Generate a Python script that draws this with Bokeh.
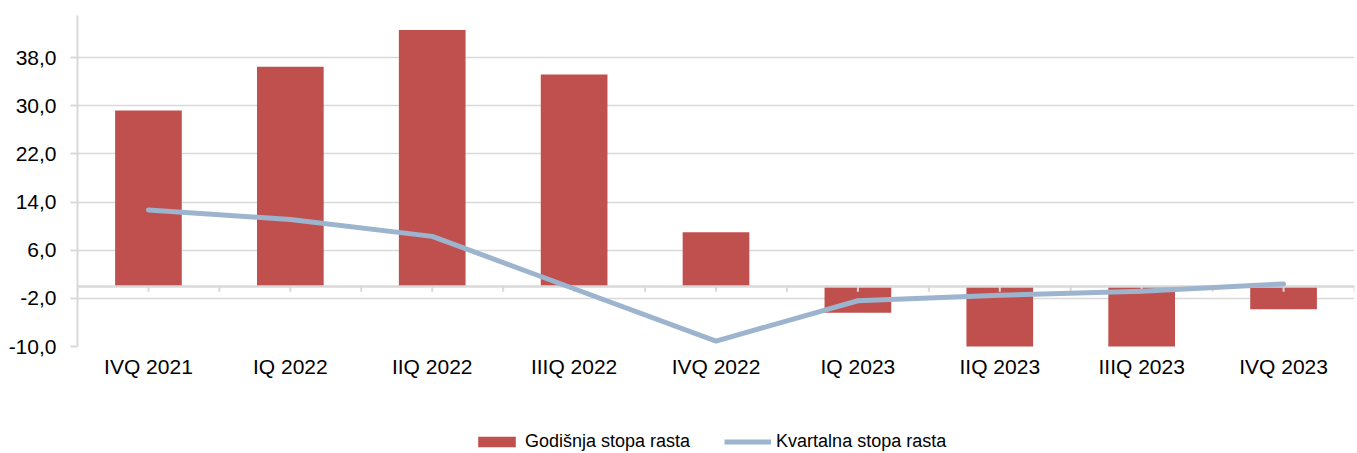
from bokeh.plotting import figure
from bokeh.layouts import column
from bokeh.models import (Range1d, FixedTicker, Legend, LegendItem, ColumnDataSource)
from bokeh.embed import file_html
from bokeh.resources import INLINE

categories = ["IVQ 2021", "IQ 2022", "IIQ 2022", "IIIQ 2022", "IVQ 2022",
              "IQ 2023", "IIQ 2023", "IIIQ 2023", "IVQ 2023"]
annual_growth = [29.2, 36.5, 42.6, 35.2, 9.0, -4.4, -10.5, -10.5, -3.8]
quarterly_growth = [12.7, 11.1, 8.3, -0.4, -9.1, -2.4, -1.5, -0.8, 0.4]
y_ticks = [-10, -2, 6, 14, 22, 30, 38]
y_tick_labels = ["-10,0", "-2,0", "6,0", "14,0", "22,0", "30,0", "38,0"]
series_names = ["Godišnja stopa rasta", "Kvartalna stopa rasta"]

FONT = "Liberation Sans"
BAR_COLOR = "#C0504D"
LINE_COLOR = "#9DB4CE"
GRID = "#D9D9D9"

xs = list(range(len(categories)))
src = ColumnDataSource(dict(x=xs, annual=annual_growth, quarterly=quarterly_growth))

p = figure(frame_width=1277, frame_height=331, output_backend="svg",
           toolbar_location=None, x_range=Range1d(-0.5, len(categories) - 0.5),
           y_range=Range1d(-10, 45), min_border_left=77, min_border_top=15,
           min_border_right=3, min_border_bottom=33)
p.outline_line_color = None

# grid
p.xgrid.grid_line_color = None
p.ygrid.ticker = FixedTicker(ticks=y_ticks)
p.ygrid.grid_line_color = GRID
p.ygrid.grid_line_width = 1.5

# y axis
p.yaxis.ticker = FixedTicker(ticks=y_ticks)
p.yaxis.major_label_overrides = {t: l for t, l in zip(y_ticks, y_tick_labels)}
p.yaxis.axis_line_color = GRID
p.yaxis.axis_line_width = 2
p.yaxis.major_tick_line_color = GRID
p.yaxis.major_tick_line_width = 2
p.yaxis.major_tick_out = 7
p.yaxis.major_tick_in = 0
p.yaxis.minor_tick_line_color = None
p.yaxis.major_label_standoff = 14
p.yaxis.major_label_text_font = FONT
p.yaxis.major_label_text_font_size = "21px"
p.yaxis.major_label_text_color = "black"

# x axis (labels at bottom)
p.xaxis.ticker = FixedTicker(ticks=xs)
p.xaxis.major_label_overrides = {i: c for i, c in zip(xs, categories)}
p.xaxis.axis_line_color = None
p.xaxis.major_tick_line_color = None
p.xaxis.minor_tick_line_color = None
p.xaxis.major_label_standoff = 2
p.xaxis.major_label_text_font = FONT
p.xaxis.major_label_text_font_size = "21px"
p.xaxis.major_label_text_color = "black"

p.vbar(x="x", top="annual", bottom=0, width=0.47, source=src,
       fill_color=BAR_COLOR, line_color=None)

# category axis line at zero with ticks
p.hspan(y=[0], line_color=GRID, line_width=2.5)
tick_pos = [i * 0.5 - 0.5 for i in range(2 * len(categories) + 1)]
p.segment(x0=tick_pos, x1=tick_pos, y0=[0] * len(tick_pos), y1=[-0.9] * len(tick_pos),
          line_color=GRID, line_width=2)

p.line(x="x", y="quarterly", source=src, line_color=LINE_COLOR,
       line_width=5, line_cap="round", line_join="round")

# legend strip below the chart (its renderers share the data but are out of view)
lg = figure(width=1357, height=74, output_backend="svg", toolbar_location=None,
            x_range=Range1d(1000, 1001), y_range=Range1d(1000, 1001),
            min_border=0, min_border_left=0, min_border_right=0,
            min_border_top=0, min_border_bottom=0)
lg.axis.visible = False
lg.grid.visible = False
lg.outline_line_color = None
r_bar = lg.vbar(x="x", top="annual", width=0.47, source=src,
                fill_color=BAR_COLOR, line_color=None)
r_line = lg.line(x="x", y="quarterly", source=src, line_color=LINE_COLOR,
                 line_width=5, line_cap="butt")

legend = Legend(items=[LegendItem(label=series_names[0], renderers=[r_bar]),
                       LegendItem(label=series_names[1], renderers=[r_line])],
                orientation="horizontal", location=(396, 2))
legend.border_line_color = None
legend.background_fill_alpha = 0
legend.padding = 0
legend.margin = 0
legend.spacing = 34
legend.glyph_width = 47
legend.glyph_height = 13
legend.label_standoff = 5
legend.label_text_font = FONT
legend.label_text_font_size = "18px"
legend.label_text_color = "black"
lg.add_layout(legend, "center")

layout = column(p, lg, spacing=0)
open("out.html", "w").write(file_html(layout, INLINE))
